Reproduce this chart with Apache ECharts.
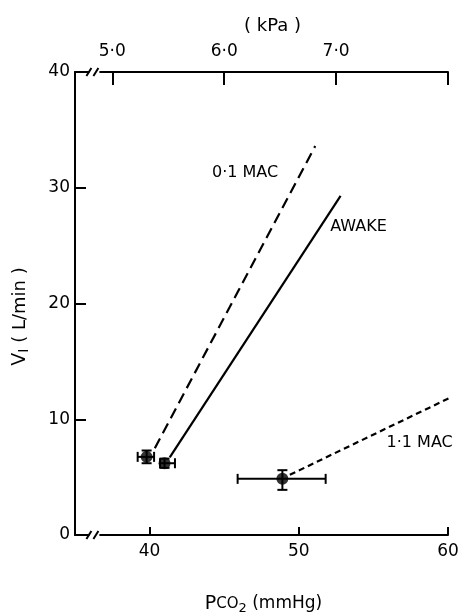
<!DOCTYPE html>
<html><head><meta charset="utf-8">
<script src="https://cdn.jsdelivr.net/npm/echarts@6/dist/echarts.min.js"></script>
<style>html,body{margin:0;padding:0;background:#fff}#c{width:461px;height:613px}</style>
</head><body><div id="c"></div>
<script>
// Data (PCO2 in mmHg, VI in L/min)
const groups = ['0·1 MAC', 'AWAKE', '1·1 MAC'];
const meanX = [39.8, 41.0, 48.9];
const meanY = [6.75, 6.2, 4.85];
const xErrLo = [39.2, 40.7, 45.9];
const xErrHi = [40.3, 41.7, 51.8];
const yErrLo = [6.2, 5.8, 3.9];
const yErrHi = [7.3, 6.6, 5.6];
// regression lines
const line01 = [[40.35, 7.5], [51.1, 33.6]];
const lineAwake = [[41.35, 6.7], [52.8, 29.3]];
const line11 = [[49.4, 5.2], [60.2, 11.9]];
// text label anchors
const labelPos = [[46.4, 31.3], [54.0, 26.6], [58.1, 8.0]];
const xTicks = [40, 50, 60];
const kpaTicks = [5, 6, 7];
const yTicks = [0, 10, 20, 30, 40];
const xMin = 35, xMax = 60, yMin = 0, yMax = 40;
const mmHgPerKPa = 7.5;

const font = 'DejaVu Sans, sans-serif';
const chart = echarts.init(document.getElementById('c'));

const errData = meanX.map((x, i) => [x, meanY[i], xErrLo[i], xErrHi[i], yErrLo[i], yErrHi[i]]);

function errRender(params, api) {
  const c = api.coord([api.value(0), api.value(1)]);
  const xl = api.coord([api.value(2), api.value(1)]);
  const xh = api.coord([api.value(3), api.value(1)]);
  const yl = api.coord([api.value(0), api.value(4)]);
  const yh = api.coord([api.value(0), api.value(5)]);
  const st = { stroke: '#000', lineWidth: 2 };
  const cap = 5;
  return { type: 'group', children: [
    { type: 'line', shape: { x1: xl[0], y1: c[1], x2: xh[0], y2: c[1] }, style: st },
    { type: 'line', shape: { x1: xl[0], y1: c[1] - cap, x2: xl[0], y2: c[1] + cap }, style: st },
    { type: 'line', shape: { x1: xh[0], y1: c[1] - cap, x2: xh[0], y2: c[1] + cap }, style: st },
    { type: 'line', shape: { x1: c[0], y1: yl[1], x2: c[0], y2: yh[1] }, style: st },
    { type: 'line', shape: { x1: c[0] - cap, y1: yl[1], x2: c[0] + cap, y2: yl[1] }, style: st },
    { type: 'line', shape: { x1: c[0] - cap, y1: yh[1], x2: c[0] + cap, y2: yh[1] }, style: st }
  ]};
}

// axis break marks at the left end of top and bottom axes, plus end ticks at right
const breakData = [[36.3, yMin, 0], [36.3, yMax, 0], [xMax, yMin, 1], [xMax, yMax, 2]];
function breakRender(params, api) {
  const p = api.coord([api.value(0), api.value(1)]);
  const kind = api.value(2);
  const st = { stroke: '#000', lineWidth: 2 };
  if (kind === 1) return { type: 'line', shape: { x1: p[0], y1: p[1], x2: p[0], y2: p[1] - 8 }, style: st };
  if (kind === 2) return { type: 'line', shape: { x1: p[0], y1: p[1], x2: p[0], y2: p[1] + 13 }, style: st };
  return { type: 'group', children: [
    { type: 'rect', shape: { x: p[0] - 5, y: p[1] - 3, width: 10, height: 6 }, style: { fill: '#fff' } },
    { type: 'line', shape: { x1: p[0] - 8, y1: p[1] + 4, x2: p[0] - 3, y2: p[1] - 4 }, style: st },
    { type: 'line', shape: { x1: p[0] - 1, y1: p[1] + 4, x2: p[0] + 4, y2: p[1] - 4 }, style: st }
  ]};
}

function textRender(params, api) {
  const p = api.coord([api.value(0), api.value(1)]);
  return { type: 'text', x: p[0], y: p[1],
    style: { text: groups[params.dataIndex], fill: '#000', font: '16px ' + font, align: 'center', verticalAlign: 'middle' } };
}

chart.setOption({
  animation: false,
  backgroundColor: '#fff',
  grid: { left: 75, right: 13, top: 72, bottom: 78, containLabel: false, outerBoundsMode: 'none' },
  xAxis: [{
    type: 'value', min: xMin, max: xMax, position: 'bottom',
    name: '{p|P}{s|CO}{sub|2} (mmHg)', nameLocation: 'middle', nameGap: 58,
    nameTextStyle: { color: '#000', fontFamily: font, fontSize: 17, padding: [0, 0, 0, 4],
      rich: { p: { fontSize: 19, fontFamily: font, color: '#000' }, s: { fontSize: 15, fontFamily: font, color: '#000' },
              sub: { fontSize: 13, fontFamily: font, color: '#000', verticalAlign: 'bottom', padding: [9, 0, 0, 0] } } },
    axisLine: { show: true, onZero: false, lineStyle: { color: '#000', width: 2 } },
    axisTick: { show: true, inside: true, length: 8, lineStyle: { color: '#000', width: 2 }, customValues: xTicks },
    axisLabel: { color: '#000', fontFamily: font, fontSize: 17, margin: 8, customValues: xTicks },
    splitLine: { show: false }
  }, {
    type: 'value', min: xMin / mmHgPerKPa, max: xMax / mmHgPerKPa, position: 'top',
    name: '( kPa )', nameLocation: 'middle', nameGap: 37,
    nameTextStyle: { color: '#000', fontFamily: font, fontSize: 18, padding: [0, 0, 0, 22] },
    axisLine: { show: true, onZero: false, lineStyle: { color: '#000', width: 2 } },
    axisTick: { show: true, inside: true, length: 13, lineStyle: { color: '#000', width: 2 }, customValues: kpaTicks },
    axisLabel: { color: '#000', fontFamily: font, fontSize: 17, margin: 12, customValues: kpaTicks,
      formatter: v => v.toFixed(1).replace('.', '·') },
    splitLine: { show: false }
  }],
  yAxis: [{
    type: 'value', min: yMin, max: yMax, interval: 10,
    name: '{v|V}{sub|I} ( L/min )', nameLocation: 'middle', nameGap: 44,
    nameTextStyle: { color: '#000', fontFamily: font, fontSize: 18, padding: [0, 26, 0, 0],
      rich: { v: { fontSize: 19, fontFamily: font, color: '#000' },
              sub: { fontSize: 14, fontFamily: font, color: '#000', verticalAlign: 'bottom', padding: [7, 0, 0, 0] } } },
    axisLine: { show: true, lineStyle: { color: '#000', width: 2 } },
    axisTick: { show: true, inside: true, length: 11, lineStyle: { color: '#000', width: 2 } },
    axisLabel: { color: '#000', fontFamily: font, fontSize: 17, margin: 5 },
    splitLine: { show: false }
  }],
  series: [
    { type: 'line', data: line01, symbol: 'none', lineStyle: { color: '#000', width: 2.2, type: [11, 6] }, z: 3 },
    { type: 'line', data: lineAwake, symbol: 'none', lineStyle: { color: '#000', width: 2.2, type: 'solid' }, z: 3 },
    { type: 'line', data: line11, symbol: 'none', lineStyle: { color: '#000', width: 2.2, type: [6, 4] }, z: 3 },
    { type: 'custom', data: errData, renderItem: errRender, z: 4, clip: false },
    { type: 'scatter', data: meanX.map((x, i) => [x, meanY[i]]), symbol: 'circle', symbolSize: 12,
      itemStyle: { color: '#000' }, z: 5 },
    { type: 'custom', data: labelPos, renderItem: textRender, z: 6, clip: false },
    { type: 'custom', data: breakData, renderItem: breakRender, clip: false, z: 10 }
  ]
});
</script></body></html>
